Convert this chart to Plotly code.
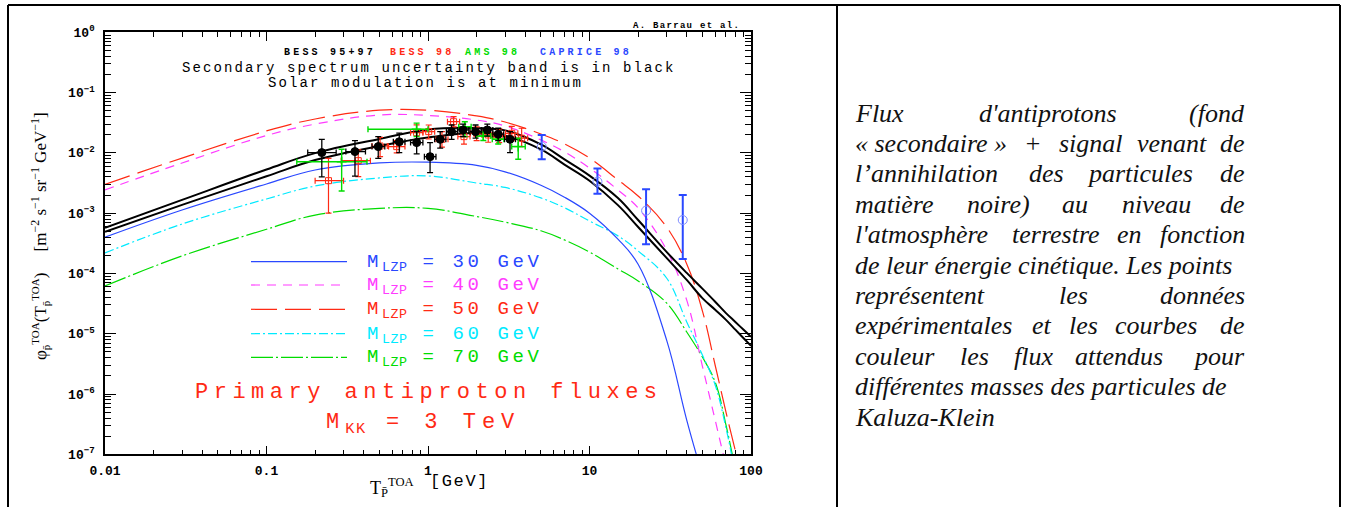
import plotly.graph_objects as go

W, H = 1350, 507

# ---------------- data ----------------
E_GRID = [0.01, 0.03, 0.1, 0.2, 0.5, 1, 2, 3, 5, 7, 10, 15, 20, 30, 40, 50, 60, 70, 80, 90, 100]

sec_upper = [5.7e-4, 1.66e-3, 5.3e-3, 9.9e-3, 1.70e-2, 2.45e-2, 2.58e-2, 2.36e-2, 1.38e-2, 7.8e-3,
             4.2e-3, 1.78e-3, 7.7e-4, 2.28e-4, 1.02e-4, 5.6e-5, 3.4e-5, 2.2e-5, 1.57e-5, 1.16e-5, 8.9e-6]
sec_lower = [4.9e-4, 1.37e-3, 4.1e-3, 7.6e-3, 1.30e-2, 1.80e-2, 2.14e-2, 1.92e-2, 1.14e-2, 6.4e-3,
             3.45e-3, 1.36e-3, 5.9e-4, 1.81e-4, 7.8e-5, 3.9e-5, 2.5e-5, 1.7e-5, 1.17e-5, 8.4e-6, 6.3e-6]

flux_30 = [4.0e-4, 1.13e-3, 3.05e-3, 5.2e-3, 6.8e-3, 7.0e-3, 6.2e-3, 4.85e-3, 2.9e-3, 1.84e-3,
           1.0e-3, 3.7e-4, 1.42e-4, 7.9e-6, 3.7e-7, 4.5e-8]
flux_40 = [2.43e-3, 6.8e-3, 1.94e-2, 3.0e-2, 4.25e-2, 4.17e-2, 3.5e-2, 2.8e-2, 1.64e-2, 1.04e-2,
           5.6e-3, 2.43e-3, 1.22e-3, 2.45e-4, 3.6e-5, 2.9e-6, 3.7e-7, 6.4e-8]
flux_50 = [3.0e-3, 8.2e-3, 2.31e-2, 3.65e-2, 5.1e-2, 5.1e-2, 4.1e-2, 3.25e-2, 2.06e-2, 1.41e-2,
           8.2e-3, 3.56e-3, 1.93e-3, 5.9e-4, 1.44e-4, 2.4e-5, 3.0e-6, 5.0e-7, 1.14e-7, 3.0e-8]
flux_60 = [2.19e-4, 6.6e-4, 1.72e-3, 2.82e-3, 3.84e-3, 4.14e-3, 3.16e-3, 2.67e-3, 1.79e-3, 1.23e-3,
           7.4e-4, 4.2e-4, 2.36e-4, 8.4e-5, 1.57e-5, 4.45e-6, 1.41e-6, 2.74e-7, 4.6e-8]
flux_70 = [6.2e-5, 1.95e-4, 5.4e-4, 9.3e-4, 1.2e-3, 1.2e-3, 8.8e-4, 7.1e-4, 5.1e-4, 3.6e-4,
           2.27e-4, 1.19e-4, 7.5e-5, 3.24e-5, 1.07e-5, 4.1e-6, 1.58e-6, 3.07e-7, 5.5e-8]

# BESS 95+97
bess9597_E = [0.22, 0.353, 0.492, 0.664, 0.851, 1.03, 1.19, 1.40, 1.65, 1.97, 2.33, 2.72, 3.22]
bess9597_Elo = [0.18, 0.31, 0.45, 0.61, 0.78, 0.95, 1.10, 1.30, 1.53, 1.82, 2.15, 2.52, 2.98]
bess9597_Ehi = [0.27, 0.41, 0.54, 0.72, 0.93, 1.12, 1.29, 1.52, 1.79, 2.13, 2.52, 2.94, 3.48]
bess9597_F = [0.0101, 0.0105, 0.0127, 0.0153, 0.0148, 0.00865, 0.0168, 0.0225, 0.0240, 0.0225, 0.0240, 0.0204, 0.0168]
bess9597_hi = [0.0168, 0.0160, 0.0186, 0.0212, 0.0225, 0.0148, 0.0225, 0.0290, 0.0300, 0.0290, 0.0300, 0.0256, 0.0225]
bess9597_lo = [0.0040, 0.0041, 0.0081, 0.0101, 0.0096, 0.0047, 0.0120, 0.0168, 0.0186, 0.0175, 0.0190, 0.0160, 0.0101]

# BESS 98
bess98_E = [0.242, 0.37, 0.505, 0.64, 0.85, 1.01, 1.22, 1.44, 1.67, 2.0, 2.36, 2.76, 3.30, 3.80]
bess98_Elo = [0.20, 0.29, 0.45, 0.57, 0.78, 0.93, 1.12, 1.32, 1.53, 1.83, 2.16, 2.53, 3.02, 3.48]
bess98_Ehi = [0.30, 0.44, 0.56, 0.72, 0.93, 1.10, 1.33, 1.57, 1.82, 2.18, 2.57, 3.01, 3.60, 4.14]
bess98_F = [0.00346, 0.00743, 0.0130, 0.0127, 0.0216, 0.0225, 0.0168, 0.0329, 0.0186, 0.0211, 0.0198, 0.0193, 0.0211, 0.0175]
bess98_hi = [0.00813, 0.0112, 0.0181, 0.0160, 0.0292, 0.0290, 0.0225, 0.0400, 0.0240, 0.0270, 0.0256, 0.0250, 0.0275, 0.0256]
bess98_lo = [0.00100, 0.00405, 0.00866, 0.0100, 0.0164, 0.0170, 0.0125, 0.0270, 0.0140, 0.0160, 0.0150, 0.0148, 0.0160, 0.0127]

# AMS 98
ams_E = [0.292, 0.85, 1.69, 2.2, 2.72, 3.62]
ams_Elo = [0.154, 0.425, 1.55, 2.0, 2.5, 3.3]
ams_Ehi = [0.419, 1.0, 1.85, 2.45, 2.95, 4.0]
ams_F = [0.00714, 0.0246, 0.0272, 0.019, 0.0168, 0.0127]
ams_hi = [0.0115, 0.0312, 0.0329, 0.0225, 0.0200, 0.0175]
ams_lo = [0.00233, 0.0187, 0.0186, 0.0160, 0.0140, 0.00783]

# CAPRICE 98
cap_E = [5.06, 11.2, 22.4, 37.8]
cap_F = [0.0127, 0.00333, 0.0011, 0.00077]
cap_hi = [0.0198, 0.0055, 0.0025, 0.0020]
cap_lo = [0.00783, 0.00209, 0.000306, 0.000173]

x_tickvals = [0.01, 0.1, 1, 10, 100]
x_ticktext = ["0.01", "0.1", "1", "10", "100"]
y_tickvals = [1e-7, 1e-6, 1e-5, 1e-4, 1e-3, 1e-2, 1e-1, 1]
y_ticktext = ["10<sup>−7</sup>", "10<sup>−6</sup>", "10<sup>−5</sup>", "10<sup>−4</sup>",
              "10<sup>−3</sup>", "10<sup>−2</sup>", "10<sup>−1</sup>", "10<sup>0</sup>"]

legend_masses = ["30", "40", "50", "60", "70"]

caption_lines = [
    ["Flux", "d'antiprotons", "(fond"],
    ["« secondaire »", "+", "signal", "venant", "de"],
    ["l’annihilation", "des", "particules", "de"],
    ["matière", "noire)", "au", "niveau", "de"],
    ["l'atmosphère", "terrestre", "en", "fonction"],
    ["de leur énergie cinétique. Les points"],
    ["représentent", "les", "données"],
    ["expérimentales", "et", "les", "courbes", "de"],
    ["couleur", "les", "flux", "attendus", "pour"],
    ["différentes masses des particules de"],
    ["Kaluza-Klein"],
]
# left x (px) of each word (None: right-aligned on the right margin)
caption_word_x = [
    [853, 976.7, None],
    [853, 1021.7, 1056.7, 1135, None],
    [853, 1026.7, 1085, None],
    [853, 965, 1060, 1120, None],
    [853, 1010, 1115, None],
    [853],
    [853, 1056.7, None],
    [853, 1030, 1066.7, 1113.3, None],
    [853, 958.3, 1011.7, 1073.3, None],
    [853],
    [853],
]

# ---------------- styles ----------------
BLUE = "#2a48ff"
MAGENTA = "#ff3cff"
RED = "#ff2a14"
CYAN = "#00eaff"
GREEN = "#00dc00"
MONO = "Liberation Mono"
SERIF = "Liberation Serif"


def px(x):
    return x / W


def py(y):
    return 1 - y / H


def ls(text, sp):
    return f"<span style='letter-spacing:{sp}px'>{text}</span>"


fig = go.Figure()

curve_specs = [
    (flux_70, GREEN, "22px,3px,2px,3px", 1.2),
    (flux_60, CYAN, "9px,3px,2px,3px", 1.2),
    (flux_30, BLUE, "solid", 1.2),
    (flux_40, MAGENTA, "9px,7px", 1.2),
    (flux_50, RED, "26px,8px", 1.2),
    (sec_upper, "black", "solid", 2),
    (sec_lower, "black", "solid", 2),
]
for vals, col, dash, wid in curve_specs:
    fig.add_trace(go.Scatter(
        x=E_GRID[:len(vals)], y=vals, mode="lines",
        line=dict(color=col, dash=dash, width=wid, shape="spline", smoothing=1.1),
        showlegend=False, hoverinfo="skip"))


def err_trace(E, F, hi, lo, Elo, Ehi, color, msym, msize, mcolor, thick, cap, mline=1):
    if Elo is not None:
        ex = dict(type="data", symmetric=False, color=color, thickness=thick, width=cap,
                  array=[h - e for h, e in zip(Ehi, E)],
                  arrayminus=[e - l for e, l in zip(E, Elo)])
    else:
        ex = dict(visible=False)
    return go.Scatter(
        x=E, y=F, mode="markers",
        marker=dict(symbol=msym, size=msize, color=mcolor, line=dict(color=mcolor, width=mline)),
        error_y=dict(type="data", symmetric=False,
                     array=[h - f for h, f in zip(hi, F)],
                     arrayminus=[f - l for f, l in zip(F, lo)],
                     color=color, thickness=thick, width=cap),
        error_x=ex, showlegend=False, hoverinfo="skip")


fig.add_trace(err_trace(bess98_E, bess98_F, bess98_hi, bess98_lo, bess98_Elo, bess98_Ehi,
                        RED, "square-open", 6, RED, 1.2, 3))
fig.add_trace(err_trace(ams_E, ams_F, ams_hi, ams_lo, ams_Elo, ams_Ehi,
                        GREEN, "cross-thin-open", 7, GREEN, 1.4, 3, 1.5))
fig.add_trace(err_trace(bess9597_E, bess9597_F, bess9597_hi, bess9597_lo, bess9597_Elo, bess9597_Ehi,
                        "black", "circle", 8, "black", 1.3, 3))
fig.add_trace(err_trace(cap_E, cap_F, cap_hi, cap_lo, None, None,
                        BLUE, "circle-open", 9, "#7f8cff", 2, 4))

# ---------------- axes ----------------
minor_x = [m * 10 ** k for k in range(-2, 2) for m in range(2, 10)]
minor_y = [m * 10.0 ** k for k in range(-7, 0) for m in range(2, 10)]
tickfont = dict(family=MONO, size=13, color="black", weight="bold")

fig.update_xaxes(
    type="log", range=[-2, 2], domain=[px(105), px(751)],
    showline=True, linecolor="black", linewidth=1.5, mirror="ticks",
    ticks="inside", ticklen=9, tickwidth=1.2, tickcolor="black",
    tickmode="array", tickvals=x_tickvals, ticktext=x_ticktext, tickfont=tickfont,
    ticklabelstandoff=3,
    minor=dict(ticks="inside", ticklen=5, tickwidth=1, tickcolor="black",
               tickmode="array", tickvals=minor_x, showgrid=False),
    showgrid=False, zeroline=False)
fig.update_yaxes(
    type="log", range=[-7, 0], domain=[py(454.3), py(32.3)],
    showline=True, linecolor="black", linewidth=1.5, mirror="ticks",
    ticks="inside", ticklen=11, tickwidth=1.2, tickcolor="black",
    tickmode="array", tickvals=y_tickvals, ticktext=y_ticktext, tickfont=tickfont,
    ticklabelstandoff=6,
    minor=dict(ticks="inside", ticklen=6, tickwidth=1, tickcolor="black",
               tickmode="array", tickvals=minor_y, showgrid=False),
    showgrid=False, zeroline=False)

# ---------------- annotations ----------------
ann = []


def add_text(text, x, y, xanchor="left", yanchor="middle", size=14, color="black",
             family=MONO, weight="normal", angle=0):
    ann.append(dict(text=text, x=px(x), y=py(y), xref="paper", yref="paper",
                    xanchor=xanchor, yanchor=yanchor, showarrow=False, textangle=angle,
                    font=dict(family=family, size=size, color=color, weight=weight)))


add_text(ls("A. Barrau et al.", 1.3), 742, 26, xanchor="right", size=9, weight="bold")
add_text(ls("BESS 95+97", 3.2), 281.7, 52.3, size=10, weight="bold")
add_text(ls("BESS 98", 3.2), 388, 52.3, size=10, weight="bold", color=RED)
add_text(ls("AMS 98", 3.2), 462.7, 52.3, size=10, weight="bold", color=GREEN)
add_text(ls("CAPRICE 98", 3.2), 538.3, 52.3, size=10, weight="bold", color=BLUE)
add_text(ls("Secondary spectrum uncertainty band is in black", 2.1), 428.5, 67.7,
         xanchor="center", size=14)
add_text(ls("Solar modulation is at minimum", 2.1), 425.5, 83.3, xanchor="center", size=14)

leg_y = [261.7, 285, 309.3, 333.7, 357.3]
leg_cols = [BLUE, MAGENTA, RED, CYAN, GREEN]
leg_dash = ["solid", "9px,7px", "26px,8px", "9px,3px,2px,3px", "22px,3px,2px,3px"]
shapes = []
for m, yy, col, dsh in zip(legend_masses, leg_y, leg_cols, leg_dash):
    shapes.append(dict(type="line", xref="paper", yref="paper", x0=px(251), x1=px(347),
                       y0=py(yy), y1=py(yy), line=dict(color=col, width=1.2, dash=dsh)))
    add_text(ls(f"M<sub><span style='letter-spacing:0.5px'>LZP</span></sub> = {m} GeV", 3.6),
             365, yy + 1, size=19, color=col)

add_text(ls("Primary antiproton fluxes", 5.5), 429, 392.7, xanchor="center", size=22, color=RED)
add_text(ls("M<sub><span style='letter-spacing:1.5px'>KK</span></sub> = 3 TeV", 6),
         324, 424, size=22, color=RED)

SMALL = "<span style='font-size:11px'>{}</span>"
add_text("φ<sub>" + SMALL.format("p̄") + "</sub><sup>" + SMALL.format("TOA") + "</sup>(T<sub>"
         + SMALL.format("p̄") + "</sub><sup>" + SMALL.format("TOA") + "</sup>)     "
         "[m<sup>−2</sup> s<sup>−1</sup> sr<sup>−1</sup> GeV<sup>−1</sup>]",
         40, 236, xanchor="center", size=17, family=SERIF, angle=-90)
add_text("T<sub>P̄</sub><sup>TOA</sup>", 392, 487, xanchor="center", size=18, family=SERIF)
add_text(ls("[GeV]", 1.6), 428, 481.5, size=17)

# caption (justified, italic serif)
for i, (words, xs) in enumerate(zip(caption_lines, caption_word_x)):
    yy = 113 + 30.4 * i
    for w_, xw in zip(words, xs):
        if xw is None:
            add_text(f"<i>{w_}</i>", 1246.7, yy, xanchor="right", size=26, family=SERIF,
                     color="#111111")
        else:
            add_text(f"<i>{w_}</i>", xw, yy, xanchor="left", size=26, family=SERIF,
                     color="#111111")

# table borders
for (x0, y0, x1, y1) in [(8, 5, 1340, 5), (8, 5, 8, 507), (837, 5, 837, 507), (1340, 5, 1340, 507)]:
    shapes.append(dict(type="line", xref="paper", yref="paper", x0=px(x0), x1=px(x1),
                       y0=py(y0), y1=py(y1), line=dict(color="black", width=2)))

fig.update_layout(
    template="none", width=W, height=H, autosize=False,
    margin=dict(l=0, r=0, t=0, b=0, pad=0),
    paper_bgcolor="white", plot_bgcolor="white",
    showlegend=False, annotations=ann, shapes=shapes)

fig.write_html("out.html", include_plotlyjs=True, config={"displayModeBar": False},
               post_script="document.body.style.margin='0';document.body.style.overflow='hidden';")
